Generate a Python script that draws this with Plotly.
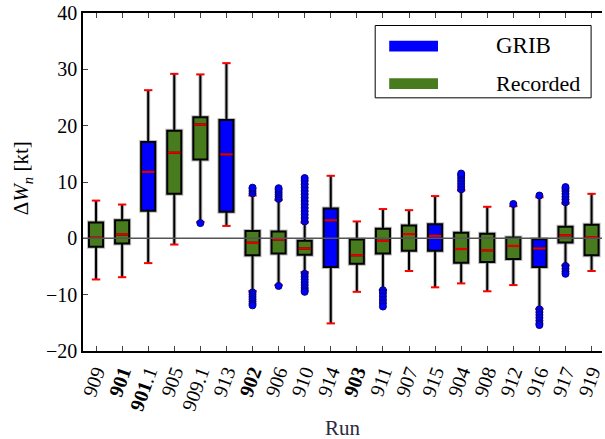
import plotly.graph_objects as go

runs = ["909", "<b>901</b>", "<b>901</b>.1", "905", "909.1", "913", "<b>902</b>", "906", "910", "914",
        "<b>903</b>", "911", "907", "915", "904", "908", "912", "916", "917", "919"]
source = ["R", "R", "G", "R", "R", "G", "R", "R", "R", "G",
          "R", "R", "R", "G", "R", "R", "R", "G", "R", "R"]
upper = [6.7, 6.0, 26.3, 29.2, 29.1, 31.1, 7.6, 6.8, 2.8, 11.1,
         3.0, 5.2, 5.0, 7.5, 8.5, 5.6, 5.7, 7.3, 6.2, 7.9]
q3 = [2.8, 3.2, 17.1, 19.1, 21.5, 21.0, 1.3, 1.2, -0.45, 5.3,
      -0.2, 1.7, 2.3, 2.5, 1.0, 0.8, 0.15, -0.15, 2.05, 2.4]
median = [0.1, 0.7, 11.8, 15.2, 20.2, 14.9, -0.8, -0.2, -1.8, 3.2,
          -3.0, -0.45, 0.75, 0.45, -1.9, -2.1, -1.35, -1.8, 0.55, 0.2]
q1 = [-1.5, -0.9, 4.9, 7.9, 14.0, 4.7, -3.0, -2.7, -2.9, -5.1,
      -4.5, -2.7, -2.2, -2.2, -4.35, -4.2, -3.65, -5.1, -0.75, -3.0]
lower = [-7.3, -6.9, -4.4, -1.1, 2.9, 2.2, -9.35, -8.3, -6.0, -15.1,
         -9.5, -9.2, -5.8, -8.7, -8.0, -9.4, -8.3, -12.5, -4.8, -5.8]
fliers = [[], [], [], [], [2.7], [],
          [8.0, 8.4, 8.8, 9.0, -9.6, -10.0, -10.4, -10.8, -11.2, -11.6, -11.9],
          [7.0, 7.4, 7.8, 8.2, 8.6, 8.9, -8.45],
          [3.0, 3.6, 4.2, 4.8, 5.4, 6.0, 6.6, 7.2, 7.8, 8.4, 9.0, 9.6, 10.2, 10.7,
           -6.3, -6.8, -7.3, -7.8, -8.3, -8.8, -9.2, -9.5],
          [], [],
          [-9.2, -9.7, -10.3, -10.9, -11.5, -12.1],
          [], [],
          [8.7, 9.2, 9.7, 10.2, 10.7, 11.2, 11.5],
          [],
          [6.1],
          [7.6, -12.6, -13.1, -13.6, -14.1, -14.6, -15.1, -15.4],
          [6.4, 6.9, 7.4, 7.9, 8.4, 8.8, 9.1, -4.9, -5.4, -5.9, -6.3],
          []]
yticks = [-20, -10, 0, 10, 20, 30, 40]

BLUE = "#0000ff"
GREEN = "#487a1e"
FONT = "Liberation Serif"
BW = 0.54
CAP = 0.16

fig = go.Figure()
xs = list(range(len(runs)))

for src, col in (("G", BLUE), ("R", GREEN)):
    idx = [i for i in xs if source[i] == src]
    common = dict(
        x=idx, q1=[q1[i] for i in idx], median=[median[i] for i in idx],
        q3=[q3[i] for i in idx], lowerfence=[lower[i] for i in idx],
        upperfence=[upper[i] for i in idx], width=BW, whiskerwidth=0,
        boxpoints=False, showlegend=False, hoverinfo="skip", fillcolor=col,
    )
    fig.add_trace(go.Box(line=dict(color="#bdbdbd", width=4), **common))
    fig.add_trace(go.Box(line=dict(color="black", width=2), **common))

# red medians and caps
mx, my, cx, cy = [], [], [], []
for i in xs:
    mx += [i - BW / 2 + 0.03, i + BW / 2 - 0.03, None]
    my += [median[i], median[i], None]
    for v in (upper[i], lower[i]):
        cx += [i - CAP, i + CAP, None]
        cy += [v, v, None]
fig.add_trace(go.Scatter(x=cx, y=cy, mode="lines", line=dict(color="#ff0000", width=2),
                         showlegend=False, hoverinfo="skip"))
fig.add_trace(go.Scatter(x=mx, y=my, mode="lines", line=dict(color="#e00000", width=2.2),
                         showlegend=False, hoverinfo="skip"))

fx, fy = [], []
for i in xs:
    for v in fliers[i]:
        fx.append(i)
        fy.append(v)
fig.add_trace(go.Scatter(x=fx, y=fy, mode="markers",
                         marker=dict(color=BLUE, size=7, line=dict(color="#00007a", width=1)),
                         showlegend=False, hoverinfo="skip"))

# zero line on top
fig.add_shape(type="line", xref="paper", yref="y", x0=0, x1=1, y0=0, y1=0,
              line=dict(color="#555555", width=1.5), layer="above")

# legend (manual)
fig.add_shape(type="rect", xref="paper", yref="paper", x0=0.563, x1=0.979, y0=0.749, y1=0.963,
              line=dict(color="black", width=1), fillcolor="white", layer="above")
fig.add_shape(type="rect", xref="paper", yref="paper", x0=0.590, x1=0.684, y0=0.886, y1=0.918,
              line=dict(width=0), fillcolor=BLUE, layer="above")
fig.add_shape(type="rect", xref="paper", yref="paper", x0=0.590, x1=0.684, y0=0.775, y1=0.807,
              line=dict(width=0), fillcolor=GREEN, layer="above")
fig.add_annotation(xref="paper", yref="paper", x=0.791, y=0.904, text="GRIB", showarrow=False,
                   xanchor="left", yanchor="middle", font=dict(family=FONT, size=23, color="black"))
fig.add_annotation(xref="paper", yref="paper", x=0.791, y=0.791, text="Recorded", showarrow=False,
                   xanchor="left", yanchor="middle", font=dict(family=FONT, size=22, color="black"))

# axis titles
fig.add_annotation(xref="paper", yref="paper", x=0.5, y=-0.227, text="Run", showarrow=False,
                   xanchor="center", yanchor="middle", font=dict(family=FONT, size=21, color="#2a2a40"))
fig.add_annotation(xref="paper", yref="paper", x=-0.117, y=0.512,
                   text="Δ<i>W</i><sub><i>n</i></sub> [kt]", showarrow=False, textangle=-90,
                   xanchor="center", yanchor="middle", font=dict(family=FONT, size=21, color="black"))

fig.update_layout(
    width=605, height=439, margin=dict(l=83, r=0, t=13, b=88),
    paper_bgcolor="white", plot_bgcolor="white", boxmode="overlay",
    font=dict(family=FONT, size=20, color="black"),
    xaxis=dict(range=[-0.5, 19.4], tickmode="array", tickvals=xs, ticktext=runs,
               tickangle=-70, ticks="inside", ticklen=5, tickcolor="#444", showgrid=False,
               zeroline=False, showline=True, linecolor="black", linewidth=1.5, mirror="ticks",
               ticklabeloverflow="allow", tickfont=dict(family=FONT, size=20)),
    yaxis=dict(range=[-20, 40], tickmode="array", tickvals=yticks, ticks="inside", ticklen=5,
               tickcolor="#444", showgrid=False, zeroline=False, showline=True, linecolor="black",
               linewidth=1.5, mirror=False, tickfont=dict(family=FONT, size=20)),
)

fig.write_html("out.html")
